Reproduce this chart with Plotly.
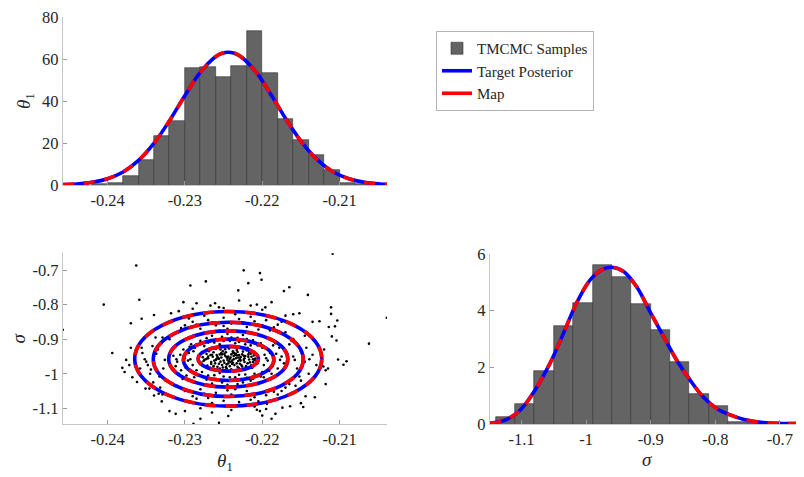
import plotly.graph_objects as go

# ---------------- data ----------------
# theta1 histogram (pdf-normalised), bin width 0.002
theta_bin_centers = [-0.241, -0.239, -0.237, -0.235, -0.233, -0.231, -0.229, -0.227, -0.225,
                     -0.223, -0.221, -0.219, -0.217, -0.215, -0.213, -0.211, -0.209, -0.207]
theta_hist = [0.5, 1.0, 4.2, 11.8, 23.5, 30.6, 55.7, 56.2, 51.3,
              56.8, 73.4, 53.3, 31.5, 21.5, 14.1, 7.1, 0.8, 0.3]
theta_bin_width = 0.002

# theta1 posterior curve
theta_curve_x = [-0.2458, -0.244, -0.242, -0.240, -0.238, -0.236, -0.234, -0.232, -0.230, -0.228,
                 -0.226, -0.2252, -0.2244, -0.2236, -0.2228, -0.2208, -0.2188, -0.2168, -0.2148,
                 -0.2128, -0.2108, -0.2088, -0.2068, -0.2048, -0.2036]
theta_curve_y = [0.2, 0.5, 1.3, 3.0, 6.2, 11.7, 19.9, 30.6, 42.6, 53.7,
                 61.2, 62.7, 63.2, 62.7, 61.2, 53.7, 42.6, 30.6, 19.9,
                 11.7, 6.2, 3.0, 1.3, 0.5, 0.27]

# sigma histogram (pdf-normalised), bin width 0.03
sigma_bin_centers = [-1.125, -1.095, -1.065, -1.035, -1.005, -0.975, -0.945,
                     -0.915, -0.885, -0.855, -0.825, -0.795, -0.765, -0.735]
sigma_hist = [0.25, 0.71, 1.87, 3.46, 4.26, 5.61, 5.2, 4.22, 3.32, 2.18, 1.05, 0.65, 0.08, 0.03]
sigma_bin_width = 0.03

# sigma posterior curve
sigma_curve_x = [-1.149, -1.125, -1.102, -1.079, -1.056, -1.035, -1.015, -0.994, -0.976, -0.960,
                 -0.942, -0.922, -0.901, -0.880, -0.860, -0.839, -0.819, -0.798, -0.777, -0.757,
                 -0.726, -0.695, -0.664]
sigma_curve_y = [0.03, 0.14, 0.49, 1.2, 2.14, 3.2, 4.26, 5.08, 5.44, 5.53,
                 5.38, 4.85, 3.96, 3.08, 2.26, 1.55, 0.96, 0.55, 0.32, 0.17,
                 0.05, 0.02, 0.01]

# joint samples (theta1, sigma)
sample_theta = [
    # core
    -0.2270, -0.2262, -0.2255, -0.2249, -0.2241, -0.2236, -0.2230, -0.2224, -0.2218, -0.2212,
    -0.2266, -0.2258, -0.2246, -0.2238, -0.2233, -0.2251, -0.2263, -0.2275, -0.2279, -0.2221,
    -0.2215, -0.2209, -0.2227, -0.2243, -0.2256, -0.2248, -0.2239, -0.2229, -0.2234, -0.2260,
    -0.2272, -0.2268, -0.2252, -0.2242, -0.2225, -0.2219, -0.2213, -0.2206, -0.2240, -0.2245,
    -0.2237, -0.2254, -0.2232, -0.2264, -0.2277, -0.2217, -0.2228, -0.2250, -0.2235, -0.2257,
    -0.2211, -0.2223, -0.2247, -0.2271, -0.2244, -0.2259, -0.2231, -0.2226, -0.2253, -0.2238,
    -0.2273, -0.2267, -0.2261, -0.2257, -0.2249, -0.2243, -0.2237, -0.2232, -0.2227, -0.2222,
    -0.2216, -0.2210, -0.2269, -0.2263, -0.2254, -0.2246, -0.2240, -0.2234, -0.2228, -0.2220,
    -0.2214, -0.2276, -0.2259, -0.2251, -0.2244, -0.2236, -0.2230, -0.2223, -0.2217, -0.2265,
    -0.2256, -0.2248, -0.2241, -0.2233, -0.2226, -0.2219, -0.2212, -0.2270, -0.2262, -0.2253,
    -0.2250, -0.2242, -0.2235, -0.2246, -0.2239, -0.2258, -0.2231, -0.2224, -0.2266, -0.2218,
    -0.2252, -0.2245, -0.2238, -0.2229, -0.2260, -0.2271, -0.2214, -0.2247, -0.2233, -0.2255,
    # inner band
    -0.2300, -0.2295, -0.2310, -0.2290, -0.2305, -0.2298, -0.2287, -0.2292, -0.2315, -0.2285,
    -0.2302, -0.2288, -0.2312, -0.2296, -0.2283, -0.2308,
    -0.2270, -0.2260, -0.2250, -0.2240, -0.2230, -0.2220, -0.2210, -0.2265, -0.2245, -0.2225,
    -0.2275, -0.2200, -0.2255, -0.2235, -0.2215, -0.2280,
    -0.2270, -0.2260, -0.2250, -0.2240, -0.2230, -0.2220, -0.2210, -0.2265, -0.2245, -0.2225,
    -0.2200, -0.2278, -0.2255, -0.2235, -0.2215, -0.2205,
    -0.2195, -0.2190, -0.2185, -0.2198, -0.2180, -0.2192, -0.2175, -0.2188, -0.2178, -0.2197,
    -0.2172, -0.2183,
    -0.2306, -0.2299, -0.2293, -0.2289, -0.2303, -0.2311, -0.2286, -0.2294,
    -0.2272, -0.2262, -0.2252, -0.2242, -0.2232, -0.2222, -0.2212, -0.2202,
    -0.2272, -0.2262, -0.2252, -0.2242, -0.2232, -0.2222, -0.2212, -0.2202,
    -0.2193, -0.2187, -0.2182, -0.2177, -0.2191, -0.2186, -0.2285, -0.2280, -0.2206, -0.2198,
    # outer band
    -0.2340, -0.2335, -0.2350, -0.2328, -0.2345, -0.2330, -0.2355, -0.2325, -0.2338, -0.2348,
    -0.2320, -0.2332, -0.2358, -0.2342, -0.2326,
    -0.2300, -0.2290, -0.2280, -0.2270, -0.2260, -0.2250, -0.2240, -0.2230, -0.2220, -0.2210,
    -0.2200, -0.2190, -0.2180, -0.2310, -0.2275, -0.2245, -0.2215, -0.2170, -0.2295, -0.2235,
    -0.2300, -0.2290, -0.2280, -0.2270, -0.2260, -0.2250, -0.2240, -0.2230, -0.2220, -0.2210,
    -0.2200, -0.2190, -0.2180, -0.2310, -0.2265, -0.2235, -0.2205, -0.2170,
    -0.2160, -0.2150, -0.2145, -0.2155, -0.2140, -0.2165, -0.2135, -0.2150, -0.2160, -0.2130,
    -0.2145, -0.2165,
    -0.2352, -0.2337, -0.2344, -0.2333, -0.2356, -0.2329, -0.2341,
    -0.2305, -0.2285, -0.2265, -0.2255, -0.2225, -0.2195, -0.2185, -0.2175, -0.2250, -0.2205,
    -0.2305, -0.2285, -0.2275, -0.2255, -0.2245, -0.2215, -0.2195, -0.2185, -0.2175, -0.2285,
    -0.2158, -0.2148, -0.2139, -0.2152, -0.2143, -0.2162, -0.2157,
    # just outside the outer contour
    -0.2340, -0.2290, -0.2250, -0.2200, -0.2160, -0.2135, -0.2370, -0.2372, -0.2368, -0.2120,
    -0.2115, -0.2118, -0.2330, -0.2280, -0.2240, -0.2195, -0.2150, -0.2265, -0.2210,
    # outliers
    -0.2109, -0.2363, -0.2224, -0.2203, -0.2201, -0.2218, -0.2273, -0.2293, -0.2231, -0.2172,
    -0.2165, -0.2141, -0.2188, -0.2230, -0.2215, -0.2207, -0.2196, -0.2170, -0.2152, -0.2111,
    -0.2111, -0.2103, -0.2114, -0.2106, -0.2126, -0.2039, -0.2110, -0.2104, -0.2062, -0.2102,
    -0.2091, -0.2095, -0.2118, -0.2121, -0.2132, -0.2144, -0.2132, -0.2147, -0.2164, -0.2174,
    -0.2183, -0.2203, -0.2200, -0.2188, -0.2244, -0.2207, -0.2194,
    -0.2405, -0.2458, -0.2394, -0.2381, -0.2378, -0.2376, -0.2359, -0.2370, -0.2356, -0.2318,
    -0.2308, -0.2302, -0.2285, -0.2267, -0.2261, -0.2256,
    -0.2362, -0.2351, -0.2346, -0.2340, -0.2334, -0.2329, -0.2320, -0.2312, -0.2300, -0.2289,
    -0.2280, -0.2256,
]
sample_sigma = [
    # core
    -0.950, -0.962, -0.944, -0.968, -0.953, -0.975, -0.946, -0.960, -0.951, -0.966,
    -0.972, -0.980, -0.985, -0.940, -0.931, -0.935, -0.938, -0.960, -0.968, -0.978,
    -0.942, -0.956, -0.988, -0.927, -0.957, -0.948, -0.962, -0.971, -0.955, -0.928,
    -0.943, -0.983, -0.975, -0.978, -0.936, -0.925, -0.983, -0.970, -0.944, -0.960,
    -0.949, -0.965, -0.980, -0.951, -0.952, -0.959, -0.952, -0.990, -0.992, -0.923,
    -0.947, -0.966, -0.938, -0.976, -0.970, -0.946, -0.963, -0.944, -0.953, -0.968,
    -0.958, -0.946, -0.970, -0.955, -0.942, -0.964, -0.958, -0.937, -0.975, -0.949,
    -0.967, -0.961, -0.935, -0.978, -0.930, -0.973, -0.987, -0.944, -0.962, -0.933,
    -0.975, -0.963, -0.957, -0.982, -0.950, -0.940, -0.984, -0.955, -0.937, -0.945,
    -0.971, -0.929, -0.966, -0.947, -0.979, -0.970, -0.958, -0.955, -0.987, -0.940,
    -0.962, -0.957, -0.945, -0.952, -0.972, -0.951, -0.953, -0.948, -0.966, -0.944,
    -0.944, -0.954, -0.935, -0.958, -0.960, -0.955, -0.951, -0.981, -0.970, -0.985,
    # inner band
    -0.955, -0.940, -0.965, -0.975, -0.990, -1.005, -0.925, -0.915, -0.948, -0.990,
    -0.930, -1.010, -0.978, -0.962, -0.948, -1.000,
    -0.910, -0.900, -0.905, -0.895, -0.908, -0.900, -0.912, -0.890, -0.885, -0.888,
    -0.920, -0.925, -0.915, -0.912, -0.918, -0.905,
    -1.005, -1.015, -1.008, -1.020, -1.003, -1.012, -1.000, -1.028, -1.032, -1.025,
    -0.995, -0.995, -0.998, -1.010, -1.020, -1.030,
    -0.955, -0.940, -0.965, -0.975, -0.985, -0.930, -0.950, -1.000, -0.925, -0.945,
    -0.970, -0.912,
    -0.945, -0.983, -0.958, -0.935, -1.015, -0.958, -1.002, -0.922,
    -0.897, -0.910, -0.893, -0.905, -0.896, -0.915, -0.903, -0.912,
    -1.017, -1.004, -1.025, -1.010, -1.030, -1.002, -1.015, -1.008,
    -0.962, -0.978, -0.942, -0.960, -0.992, -0.918, -0.915, -1.005, -0.918, -1.010,
    # outer band
    -0.950, -0.930, -0.965, -0.985, -1.000, -0.910, -0.940, -1.020, -0.895, -0.975,
    -0.900, -1.040, -0.985, -0.920, -0.960,
    -0.860, -0.850, -0.870, -0.845, -0.860, -0.838, -0.855, -0.842, -0.865, -0.848,
    -0.860, -0.875, -0.858, -0.880, -0.832, -0.870, -0.835, -0.880, -0.840, -0.828,
    -1.050, -1.065, -1.045, -1.070, -1.055, -1.078, -1.060, -1.082, -1.050, -1.068,
    -1.055, -1.045, -1.060, -1.035, -1.085, -1.045, -1.080, -1.040,
    -0.950, -0.935, -0.965, -0.985, -1.000, -0.915, -0.945, -1.020, -0.900, -0.975,
    -0.890, -1.030,
    -0.958, -0.942, -0.988, -1.008, -0.925, -0.895, -1.025,
    -0.868, -0.858, -0.852, -0.875, -0.855, -0.845, -0.866, -0.850, -0.862, -0.872,
    -1.042, -1.055, -1.058, -1.065, -1.048, -1.075, -1.062, -1.052, -1.050, -1.072,
    -0.960, -0.975, -0.958, -1.008, -0.925, -0.905, -1.035,
    # just outside the outer contour
    -0.830, -0.812, -0.810, -0.815, -0.828, -0.850, -0.925, -0.975, -1.010, -0.930,
    -0.985, -1.030, -1.080, -1.100, -1.105, -1.102, -1.085, -1.112, -1.095,
    # outliers
    -0.653, -0.687, -0.701, -0.709, -0.728, -0.738, -0.733, -0.745, -0.759, -0.761,
    -0.750, -0.772, -0.793, -0.788, -0.803, -0.800, -0.808, -0.832, -0.825, -0.808,
    -0.827, -0.846, -0.865, -0.863, -0.848, -0.838, -0.892, -0.904, -0.913, -0.959,
    -0.964, -0.974, -0.990, -0.979, -1.010, -1.065, -1.068, -1.096, -1.094, -1.098,
    -1.116, -1.108, -1.121, -1.130, -1.122, -1.104, -1.087,
    -0.800, -0.873, -0.940, -0.983, -0.995, -0.960, -0.786, -0.854, -0.841, -0.825,
    -0.819, -0.793, -0.796, -0.803, -0.796, -0.808,
    -1.024, -1.043, -1.043, -1.063, -1.058, -1.060, -1.108, -1.116, -1.108, -1.145,
    -1.130, -1.142,
]

# posterior contour ellipses: bounding boxes (theta min, theta max, sigma min, sigma max)
ellipse_theta_min = [-0.2365, -0.2341, -0.2321, -0.2302, -0.2283]
ellipse_theta_max = [-0.2123, -0.2147, -0.2167, -0.2185, -0.2205]
ellipse_sigma_min = [-1.0936, -1.0656, -1.0387, -1.0194, -0.9925]
ellipse_sigma_max = [-0.820, -0.851, -0.876, -0.900, -0.921]

theta_ticks = [-0.24, -0.23, -0.22, -0.21]
theta_ticklabels = ["-0.24", "-0.23", "-0.22", "-0.21"]
sigma_ticks = [-1.1, -1.0, -0.9, -0.8, -0.7]
sigma_ticklabels = ["-1.1", "-1", "-0.9", "-0.8", "-0.7"]
hist1_yticks = [0, 20, 40, 60, 80]
hist1_yticklabels = ["0", "20", "40", "60", "80"]
hist2_yticks = [0, 2, 4, 6]

# ---------------- style ----------------
FONT = "Liberation Serif, 'Times New Roman', 'DejaVu Serif', serif"
TXT = "#262626"
BAR = "#646464"
BAR_EDGE = "#333333"
BLUE = "#0000ff"
RED = "#ff0000"
LW = 3.6
DASH = "11px,10px"

# the page body has an 8px margin; size the figure so it fills the 804x477 window
OFF = 8
W, H = 804 - OFF, 477 - OFF


def fx(px):
    return (px - OFF) / W


def fy(py):
    return (477 - py) / H


fig = go.Figure()

# top-left histogram
fig.add_trace(go.Bar(x=theta_bin_centers, y=theta_hist, width=theta_bin_width,
                     marker=dict(color=BAR, line=dict(color=BAR_EDGE, width=0.6)),
                     name="TMCMC Samples", xaxis="x", yaxis="y", showlegend=True))
fig.add_trace(go.Scatter(x=theta_curve_x, y=theta_curve_y, mode="lines", line_shape="spline",
                         line=dict(color=BLUE, width=LW), name="Target Posterior",
                         xaxis="x", yaxis="y", showlegend=True))
fig.add_trace(go.Scatter(x=theta_curve_x, y=theta_curve_y, mode="lines", line_shape="spline",
                         line=dict(color=RED, width=LW, dash=DASH), name="Map",
                         xaxis="x", yaxis="y", showlegend=False))
# legend entry for Map (short solid swatch as in reference)
fig.add_trace(go.Scatter(x=[None], y=[None], mode="lines", line=dict(color=RED, width=LW),
                         name="Map", xaxis="x", yaxis="y", showlegend=True))

# bottom-left scatter
fig.add_trace(go.Scatter(x=sample_theta, y=sample_sigma, mode="markers",
                         marker=dict(color="black", size=2.6), xaxis="x2", yaxis="y2",
                         showlegend=False))

# bottom-right histogram
fig.add_trace(go.Bar(x=sigma_bin_centers, y=sigma_hist, width=sigma_bin_width,
                     marker=dict(color=BAR, line=dict(color=BAR_EDGE, width=0.6)),
                     xaxis="x3", yaxis="y3", showlegend=False))
fig.add_trace(go.Scatter(x=sigma_curve_x, y=sigma_curve_y, mode="lines", line_shape="spline",
                         line=dict(color=BLUE, width=LW), xaxis="x3", yaxis="y3", showlegend=False))
fig.add_trace(go.Scatter(x=sigma_curve_x, y=sigma_curve_y, mode="lines", line_shape="spline",
                         line=dict(color=RED, width=LW, dash=DASH), xaxis="x3", yaxis="y3",
                         showlegend=False))

shapes = []
for i in range(len(ellipse_theta_min)):
    for col, dash in ((BLUE, "solid"), (RED, DASH)):
        shapes.append(dict(type="circle", xref="x2", yref="y2",
                           x0=ellipse_theta_min[i], x1=ellipse_theta_max[i],
                           y0=ellipse_sigma_min[i], y1=ellipse_sigma_max[i],
                           line=dict(color=col, width=LW, dash=dash)))

ax_common = dict(showline=True, linecolor="#c6c6c6", linewidth=1.2, ticks="inside", ticklen=4,
                 tickcolor="#9a9a9a", tickwidth=1, showgrid=False, zeroline=False,
                 tickfont=dict(family=FONT, size=16.5, color=TXT), automargin=False,
                 ticklabeloverflow="allow")
title_font = dict(family=FONT, size=19, color=TXT)

fig.update_layout(
    width=W, height=H, margin=dict(l=0, r=0, t=0, b=0),
    paper_bgcolor="white", plot_bgcolor="white", bargap=0, barmode="overlay",
    shapes=shapes,
    xaxis=dict(ax_common, domain=[fx(63), fx(387)], range=[-0.24577, -0.20387], anchor="y",
               tickvals=theta_ticks, ticktext=theta_ticklabels),
    yaxis=dict(ax_common, domain=[fy(185), fy(17)], range=[0, 80], anchor="x",
               tickvals=hist1_yticks, ticktext=hist1_yticklabels,
               title=dict(text="<i>θ</i><sub>1</sub>", font=title_font, standoff=6)),
    xaxis2=dict(ax_common, domain=[fx(63), fx(387)], range=[-0.24577, -0.20387], anchor="y2",
                tickvals=theta_ticks, ticktext=theta_ticklabels,
                title=dict(text="<i>θ</i><sub>1</sub>", font=title_font, standoff=5)),
    yaxis2=dict(ax_common, domain=[fy(424.3), fy(253.3)], range=[-1.1462, -0.6517],
                anchor="x2", tickvals=sigma_ticks, ticktext=sigma_ticklabels,
                title=dict(text="<i>σ</i>", font=title_font, standoff=6)),
    xaxis3=dict(ax_common, domain=[fx(490), fx(803.3)], range=[-1.1488, -0.6638], anchor="y3",
                tickvals=sigma_ticks, ticktext=sigma_ticklabels,
                title=dict(text="<i>σ</i>", font=title_font, standoff=4)),
    yaxis3=dict(ax_common, domain=[fy(424), fy(254)], range=[0, 6], anchor="x3",
                tickvals=hist2_yticks),
    legend=dict(x=fx(436), y=fy(31), xanchor="left", yanchor="top",
                bordercolor="#b4b4b4", borderwidth=1, bgcolor="white",
                font=dict(family=FONT, size=15, color=TXT), tracegroupgap=0,
                itemwidth=30),
)

fig.write_html("out.html")
